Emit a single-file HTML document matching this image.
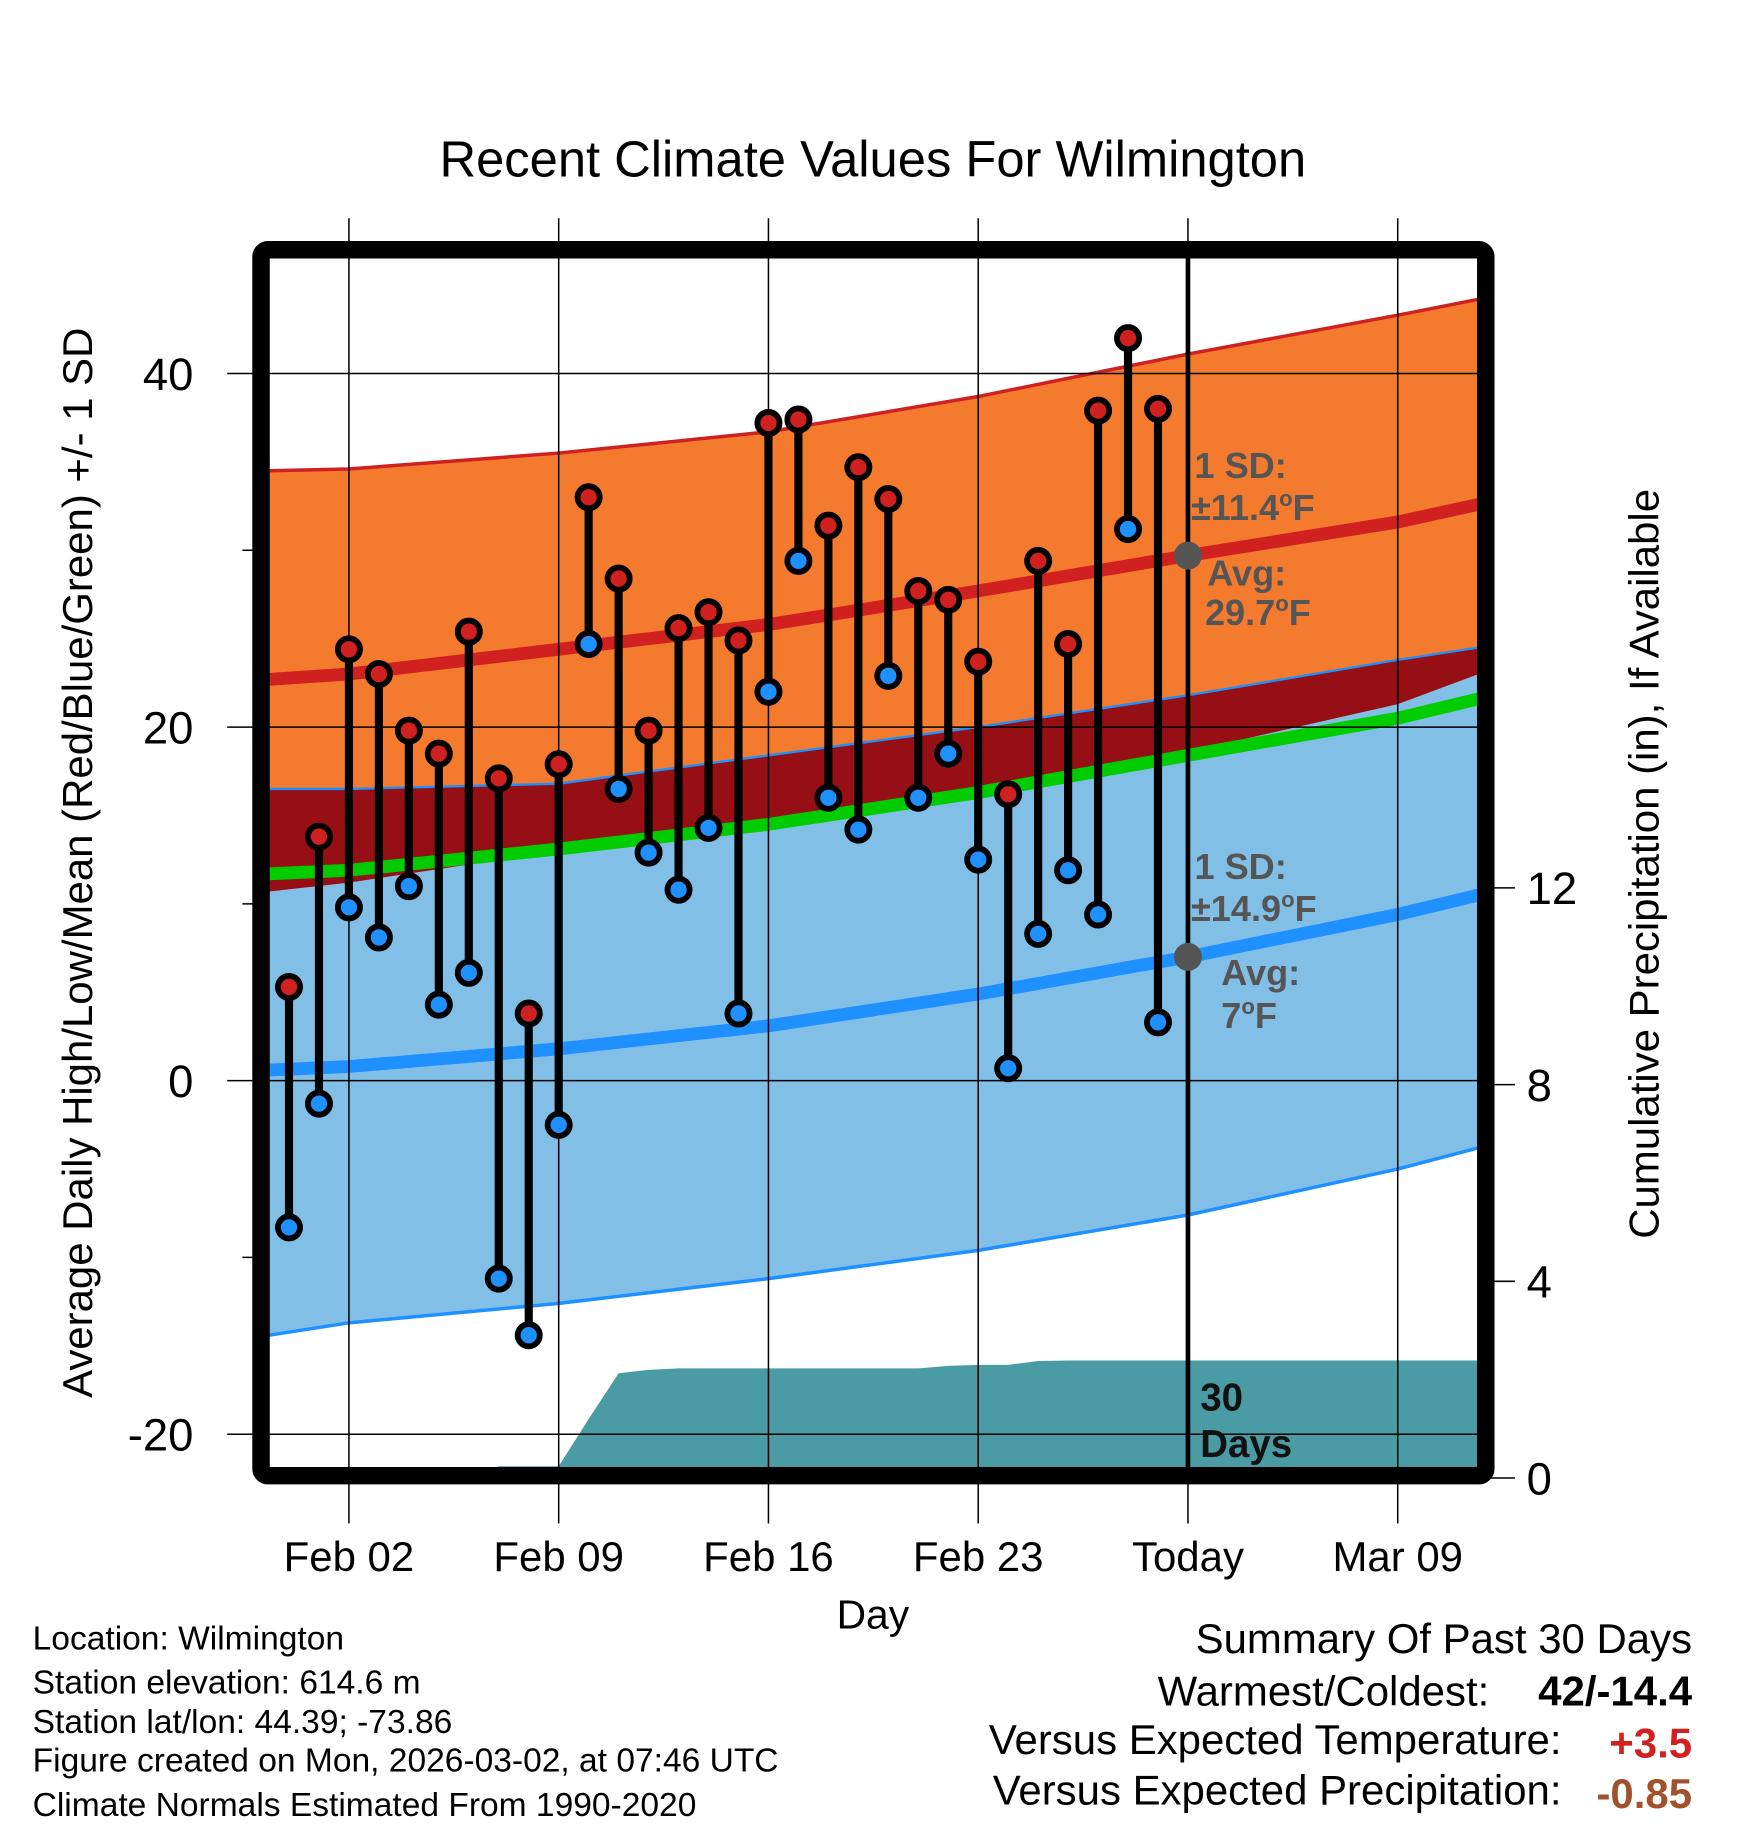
<!DOCTYPE html>
<html><head><meta charset="utf-8"><style>
html,body{margin:0;padding:0;background:#fff;}
svg{display:block;font-family:"Liberation Sans",Arial,sans-serif;}
</style></head><body>
<svg id="chart" width="1748" height="1828" viewBox="0 0 1500 1568" xmlns="http://www.w3.org/2000/svg">
<defs><clipPath id="plotclip"><rect x="231" y="220" width="1037" height="1040"/></clipPath></defs>
<rect width="1500" height="1568" fill="#fff"/>
<text x="749" y="151" font-size="43.5" text-anchor="middle">Recent Climate Values For Wilmington</text>
<g id="fills" clip-path="url(#plotclip)"></g>
<g id="grid"></g>
<g id="series"></g>
<g id="annot"></g>
<rect x="224" y="214" width="1051" height="1052" rx="6" fill="none" stroke="#000" stroke-width="15"/>
<g id="axes"></g>
<text transform="translate(79,740) rotate(-90)" font-size="36" text-anchor="middle">Average Daily High/Low/Mean (Red/Blue/Green) +/- 1 SD</text>
<text transform="translate(1423,741) rotate(-90)" font-size="36" text-anchor="middle">Cumulative Precipitation (in), If Available</text>
<text x="749" y="1397" font-size="35" text-anchor="middle">Day</text>
<g font-size="28.8">
<text x="28" y="1415">Location: Wilmington</text>
<text x="28" y="1453">Station elevation: 614.6 m</text>
<text x="28" y="1487">Station lat/lon: 44.39; -73.86</text>
<text x="28" y="1520">Figure created on Mon, 2026-03-02, at 07:46 UTC</text>
<text x="28" y="1558">Climate Normals Estimated From 1990-2020</text>
</g>
<g font-size="36">
<text x="1452" y="1418" text-anchor="end">Summary Of Past 30 Days</text>
<text x="1278" y="1463" text-anchor="end">Warmest/Coldest:</text>
<text x="1452" y="1463" text-anchor="end" font-weight="bold">42/-14.4</text>
<text x="1340" y="1505" text-anchor="end">Versus Expected Temperature:</text>
<text x="1452" y="1508" text-anchor="end" font-weight="bold" fill="#d02020">+3.5</text>
<text x="1340" y="1548" text-anchor="end">Versus Expected Precipitation:</text>
<text x="1452" y="1551" text-anchor="end" font-weight="bold" fill="#a0522d">-0.85</text>
</g>
</svg>
<script>
// ---- data ----
const highs = [5.3,13.8,24.4,23.0,19.8,18.5,25.4,17.1,3.8,17.9,33.0,28.4,19.8,25.6,26.5,24.9,37.2,37.4,31.4,34.7,32.9,27.7,27.2,23.7,16.2,29.4,24.7,37.9,42.0,38.0];
const lows = [-8.3,-1.3,9.8,8.1,11.0,4.3,6.1,-11.2,-14.4,-2.5,24.7,16.5,12.9,10.8,14.3,3.8,22.0,29.4,16.0,14.2,22.9,16.0,18.5,12.5,0.7,8.3,11.9,9.4,31.2,3.3];
const precip = [0,0,0,0,0,0,0,0.24,0.24,0.24,1.2,2.13,2.2,2.23,2.23,2.23,2.23,2.23,2.23,2.23,2.23,2.23,2.28,2.3,2.3,2.38,2.39,2.39,2.39,2.39];
const normDays = [-0.66,2,9,16,23,30,37,39.7];
const highUpper = [34.5,34.6,35.5,36.7,38.7,41.1,43.3,44.2];
const highAvg = [22.7,23.0,24.4,25.8,27.7,29.7,31.6,32.6];
const highLower = [10.7,11.2,13.0,14.6,16.5,18.6,21.3,23.0];
const lowUpper = [16.5,16.5,16.8,18.4,20.0,21.8,23.8,24.5];
const lowAvg = [0.6,0.8,1.8,3.1,4.9,7.0,9.4,10.5];
const lowLower = [-14.4,-13.7,-12.6,-11.2,-9.6,-7.6,-5.0,-3.8];
const meanAvg = [11.7,11.9,13.1,14.5,16.3,18.4,20.5,21.6];
const yTicks = [40,20,0,-20];
const yMinor = [30,10,-10];
const y2Ticks = [0,4,8,12];
const xTickDays = [2,9,16,23,30,37];
const xTickLabels = ["Feb 02","Feb 09","Feb 16","Feb 23","Today","Mar 09"];
const todayDay = 30, todayHighAvg = 29.7, todayLowAvg = 7.0;

// ---- scales ----
const X = d => 248 + 25.714 * d;
const Y = t => 927 - 15.17 * t;
const Y2 = p => 1268 - 42.2 * p;
const NS = "http://www.w3.org/2000/svg";
function mk(tag, attrs, parent){const e=document.createElementNS(NS,tag);for(const k in attrs)e.setAttribute(k,attrs[k]);parent.appendChild(e);return e;}
const fills=document.getElementById('fills'),grid=document.getElementById('grid'),series=document.getElementById('series'),annot=document.getElementById('annot'),axes=document.getElementById('axes');
const band=(up,lo)=>normDays.map((d,i)=>X(d)+','+Y(up[i])).concat(normDays.map((d,i)=>X(d)+','+Y(lo[i])).reverse()).join(' ');
const line=(arr)=>normDays.map((d,i)=>X(d)+','+Y(arr[i])).join(' ');

let e;
e=mk('polygon',{points:band(lowUpper,lowLower),fill:'#82bfe6'},fills);


e=mk('polygon',{points:band(highUpper,highLower),fill:'#f47a2e'},fills);


e=mk('polygon',{points:band(lowUpper,highLower),fill:'#960f14'},fills);


e=mk('polyline',{points:line(highUpper),fill:'none',stroke:'#d02020','stroke-width':3},fills);


e=mk('polyline',{points:line(lowUpper),fill:'none',stroke:'#1e90ff','stroke-width':2},fills);


e=mk('polyline',{points:line(lowLower),fill:'none',stroke:'#1e90ff','stroke-width':3},fills);


e=mk('polyline',{points:line(meanAvg),fill:'none',stroke:'#00cc00','stroke-width':11},fills);


e=mk('polyline',{points:line(highAvg),fill:'none',stroke:'#d02020','stroke-width':11},fills);


e=mk('polyline',{points:line(lowAvg),fill:'none',stroke:'#1e90ff','stroke-width':11},fills);


// precip
let pp=[X(-1)+','+Y2(precip[0])];
precip.forEach((p,i)=>pp.push(X(i)+','+Y2(p)));
pp.push(X(41)+','+Y2(precip[precip.length-1]));
pp.push(X(41)+','+Y2(0)); pp.push(X(-1)+','+Y2(0));
e=mk('polygon',{points:pp.join(' '),fill:'#4a9ba4'},fills);



// grid
yTicks.forEach(t=>{
  e=mk('line',{x1:195,x2:1268,y1:Y(t),y2:Y(t),stroke:'#000','stroke-width':1.3},grid);
  
  
  e=mk('text',{x:166,y:Y(t)+14,'font-size':39,'text-anchor':'end'},axes);e.textContent=t;
  
  
});
yMinor.forEach(t=>{
  e=mk('line',{x1:208,x2:224,y1:Y(t),y2:Y(t),stroke:'#000','stroke-width':1.3},axes);
  
  
});
y2Ticks.forEach(p=>{
  e=mk('line',{x1:1275,x2:1300,y1:Y2(p),y2:Y2(p),stroke:'#000','stroke-width':1.3},axes);
  
  
  e=mk('text',{x:1310,y:Y2(p)+14,'font-size':39},axes);e.textContent=p;
  
  
});
xTickDays.forEach((d,i)=>{
  e=mk('line',{x1:X(d),x2:X(d),y1:187,y2:1307,stroke:'#000','stroke-width':1.3},grid);
  
  
  e=mk('text',{x:X(d),y:1348,'font-size':36,'text-anchor':'middle'},axes);e.textContent=xTickLabels[i];
  
  
});
e=mk('line',{x1:X(todayDay),x2:X(todayDay),y1:220,y2:1260,stroke:'#000','stroke-width':4},grid);



// series
highs.forEach((h,i)=>{
  e=mk('line',{x1:X(i),x2:X(i),y1:Y(h),y2:Y(lows[i]),stroke:'#000','stroke-width':7},series);
  
  
});
highs.forEach((h,i)=>{
  e=mk('circle',{cx:X(i),cy:Y(h),r:9.5,fill:'#d02020',stroke:'#000','stroke-width':5},series);
  
  
  e=mk('circle',{cx:X(i),cy:Y(lows[i]),r:9.5,fill:'#1e90ff',stroke:'#000','stroke-width':5},series);
  
  
});

// annotations
e=mk('circle',{cx:X(todayDay),cy:Y(todayHighAvg),r:12,fill:'#555'},annot);


e=mk('circle',{cx:X(todayDay),cy:Y(todayLowAvg),r:12,fill:'#555'},annot);


annot.insertAdjacentHTML('beforeend',`
<g font-size="31" font-weight="bold" fill="#555">
<text x="1025" y="410">1 SD:</text>
<text x="1022" y="446">±11.4<tspan font-size="19" dy="-12">o</tspan><tspan dy="12">F</tspan></text>
<text x="1036" y="502">Avg:</text>
<text x="1034" y="536">29.7<tspan font-size="19" dy="-12">o</tspan><tspan dy="12">F</tspan></text>
</g>
<g font-size="31" font-weight="bold" fill="#555">
<text x="1025" y="754">1 SD:</text>
<text x="1022" y="790">±14.9<tspan font-size="19" dy="-12">o</tspan><tspan dy="12">F</tspan></text>
<text x="1048" y="845">Avg:</text>
<text x="1048" y="882">7<tspan font-size="19" dy="-12">o</tspan><tspan dy="12">F</tspan></text>
</g>
<g font-size="33" font-weight="bold" fill="#111">
<text x="1030" y="1210">30</text>
<text x="1030" y="1250">Days</text>
</g>`);
</script>
</body></html>
